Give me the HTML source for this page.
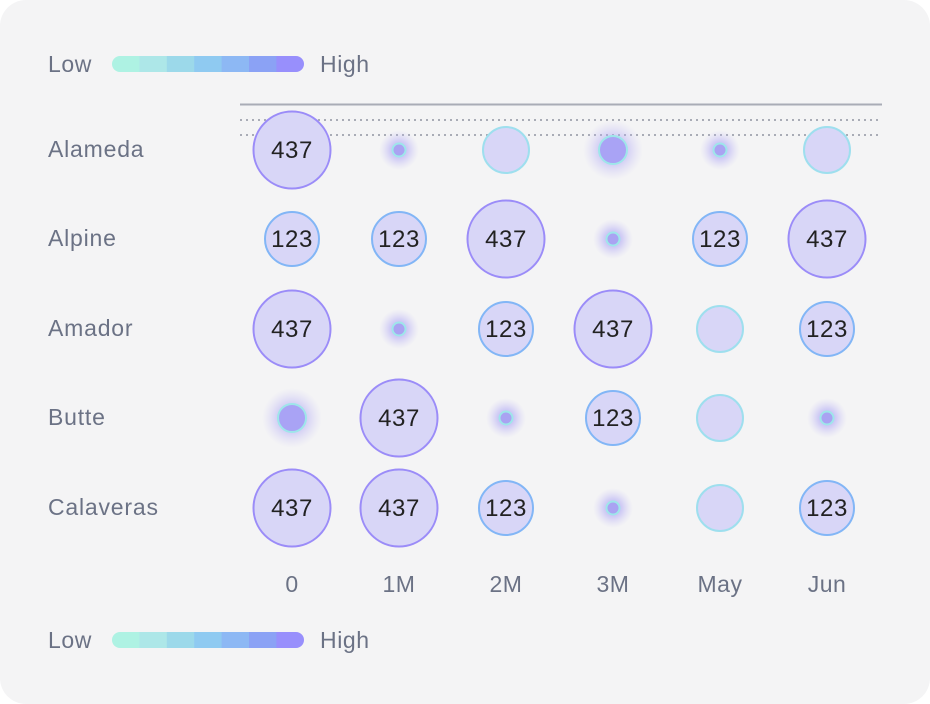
<!DOCTYPE html>
<html><head><meta charset="utf-8"><style>
html,body{margin:0;padding:0;background:#fff;}
svg{display:block}
text{font-family:"Liberation Sans",sans-serif;}
</style></head><body>
<svg width="930" height="704" viewBox="0 0 930 704" xmlns="http://www.w3.org/2000/svg">
<defs>
<radialGradient id="glow"><stop offset="0" stop-color="#9c93f5" stop-opacity="0.85"/><stop offset="0.5" stop-color="#aea6f5" stop-opacity="0.45"/><stop offset="1" stop-color="#c8c3f7" stop-opacity="0"/></radialGradient>
<clipPath id="bar"><rect x="112" y="56" width="192" height="16" rx="8"/></clipPath>
</defs>
<rect x="0" y="0" width="930" height="704" rx="26" fill="#f4f4f5"/>
<g id="leg1">
<text x="48" y="72" font-size="23" letter-spacing="0.6" fill="#6b7285">Low</text>
<g clip-path="url(#bar)">
<rect x="112" y="56" width="28" height="16" fill="#aef2e3"/>
<rect x="139.4" y="56" width="28" height="16" fill="#ade7e8"/>
<rect x="166.8" y="56" width="28" height="16" fill="#9cd9ea"/>
<rect x="194.2" y="56" width="28" height="16" fill="#8fcaf1"/>
<rect x="221.6" y="56" width="28" height="16" fill="#8db8f4"/>
<rect x="249" y="56" width="28" height="16" fill="#8ba2f5"/>
<rect x="276.4" y="56" width="28" height="16" fill="#988ffc"/>
</g>
<text x="320" y="72" font-size="23" letter-spacing="0.6" fill="#6b7285">High</text>
</g>
<use href="#leg1" transform="translate(0,576)"/>
<line x1="240" y1="104.5" x2="882" y2="104.5" stroke="#a9acb6" stroke-width="2"/>
<line x1="240" y1="120" x2="882" y2="120" stroke="#a9acb6" stroke-width="2" stroke-dasharray="2,4"/>
<line x1="240" y1="135" x2="882" y2="135" stroke="#a9acb6" stroke-width="2" stroke-dasharray="2,4"/>
<g font-size="23" letter-spacing="0.8" fill="#6b7285">
<text x="48" y="157">Alameda</text>
<text x="48" y="246">Alpine</text>
<text x="48" y="336">Amador</text>
<text x="48" y="425">Butte</text>
<text x="48" y="515">Calaveras</text>
</g>
<g font-size="23" letter-spacing="0.5" fill="#6b7285" text-anchor="middle">
<text x="292" y="592">0</text><text x="399" y="592">1M</text><text x="506" y="592">2M</text>
<text x="613" y="592">3M</text><text x="720" y="592">May</text><text x="827" y="592">Jun</text>
</g>
<g id="cells" font-size="24" letter-spacing="0.6" text-anchor="middle" fill="#222">
<circle cx="292" cy="150" r="38.5" fill="#d8d6f7" stroke="#9b8cf8" stroke-width="2"/><text x="292" y="158">437</text>
<circle cx="399" cy="150" r="20" fill="url(#glow)"/><circle cx="399" cy="150" r="6.5" fill="#a9a3f2" stroke="#9ee6ea" stroke-width="2"/>
<circle cx="506" cy="150" r="23" fill="#d8d6f7" stroke="#9edfee" stroke-width="2"/>
<circle cx="613" cy="150" r="30" fill="url(#glow)"/><circle cx="613" cy="150" r="14" fill="#a9a3f5" stroke="#9ee6ea" stroke-width="2"/>
<circle cx="720" cy="150" r="20" fill="url(#glow)"/><circle cx="720" cy="150" r="6.5" fill="#a9a3f2" stroke="#9ee6ea" stroke-width="2"/>
<circle cx="827" cy="150" r="23" fill="#d8d6f7" stroke="#9edfee" stroke-width="2"/>
<circle cx="292" cy="239" r="27" fill="#d8d6f7" stroke="#82b6f6" stroke-width="2"/><text x="292" y="247">123</text>
<circle cx="399" cy="239" r="27" fill="#d8d6f7" stroke="#82b6f6" stroke-width="2"/><text x="399" y="247">123</text>
<circle cx="506" cy="239" r="38.5" fill="#d8d6f7" stroke="#9b8cf8" stroke-width="2"/><text x="506" y="247">437</text>
<circle cx="613" cy="239" r="20" fill="url(#glow)"/><circle cx="613" cy="239" r="6.5" fill="#a9a3f2" stroke="#9ee6ea" stroke-width="2"/>
<circle cx="720" cy="239" r="27" fill="#d8d6f7" stroke="#82b6f6" stroke-width="2"/><text x="720" y="247">123</text>
<circle cx="827" cy="239" r="38.5" fill="#d8d6f7" stroke="#9b8cf8" stroke-width="2"/><text x="827" y="247">437</text>
<circle cx="292" cy="329" r="38.5" fill="#d8d6f7" stroke="#9b8cf8" stroke-width="2"/><text x="292" y="337">437</text>
<circle cx="399" cy="329" r="20" fill="url(#glow)"/><circle cx="399" cy="329" r="6.5" fill="#a9a3f2" stroke="#9ee6ea" stroke-width="2"/>
<circle cx="506" cy="329" r="27" fill="#d8d6f7" stroke="#82b6f6" stroke-width="2"/><text x="506" y="337">123</text>
<circle cx="613" cy="329" r="38.5" fill="#d8d6f7" stroke="#9b8cf8" stroke-width="2"/><text x="613" y="337">437</text>
<circle cx="720" cy="329" r="23" fill="#d8d6f7" stroke="#9edfee" stroke-width="2"/>
<circle cx="827" cy="329" r="27" fill="#d8d6f7" stroke="#82b6f6" stroke-width="2"/><text x="827" y="337">123</text>
<circle cx="292" cy="418" r="30" fill="url(#glow)"/><circle cx="292" cy="418" r="14" fill="#a9a3f5" stroke="#9ee6ea" stroke-width="2"/>
<circle cx="399" cy="418" r="38.5" fill="#d8d6f7" stroke="#9b8cf8" stroke-width="2"/><text x="399" y="426">437</text>
<circle cx="506" cy="418" r="20" fill="url(#glow)"/><circle cx="506" cy="418" r="6.5" fill="#a9a3f2" stroke="#9ee6ea" stroke-width="2"/>
<circle cx="613" cy="418" r="27" fill="#d8d6f7" stroke="#82b6f6" stroke-width="2"/><text x="613" y="426">123</text>
<circle cx="720" cy="418" r="23" fill="#d8d6f7" stroke="#9edfee" stroke-width="2"/>
<circle cx="827" cy="418" r="20" fill="url(#glow)"/><circle cx="827" cy="418" r="6.5" fill="#a9a3f2" stroke="#9ee6ea" stroke-width="2"/>
<circle cx="292" cy="508" r="38.5" fill="#d8d6f7" stroke="#9b8cf8" stroke-width="2"/><text x="292" y="516">437</text>
<circle cx="399" cy="508" r="38.5" fill="#d8d6f7" stroke="#9b8cf8" stroke-width="2"/><text x="399" y="516">437</text>
<circle cx="506" cy="508" r="27" fill="#d8d6f7" stroke="#82b6f6" stroke-width="2"/><text x="506" y="516">123</text>
<circle cx="613" cy="508" r="20" fill="url(#glow)"/><circle cx="613" cy="508" r="6.5" fill="#a9a3f2" stroke="#9ee6ea" stroke-width="2"/>
<circle cx="720" cy="508" r="23" fill="#d8d6f7" stroke="#9edfee" stroke-width="2"/>
<circle cx="827" cy="508" r="27" fill="#d8d6f7" stroke="#82b6f6" stroke-width="2"/><text x="827" y="516">123</text>
</g>
</svg>
</body></html>
